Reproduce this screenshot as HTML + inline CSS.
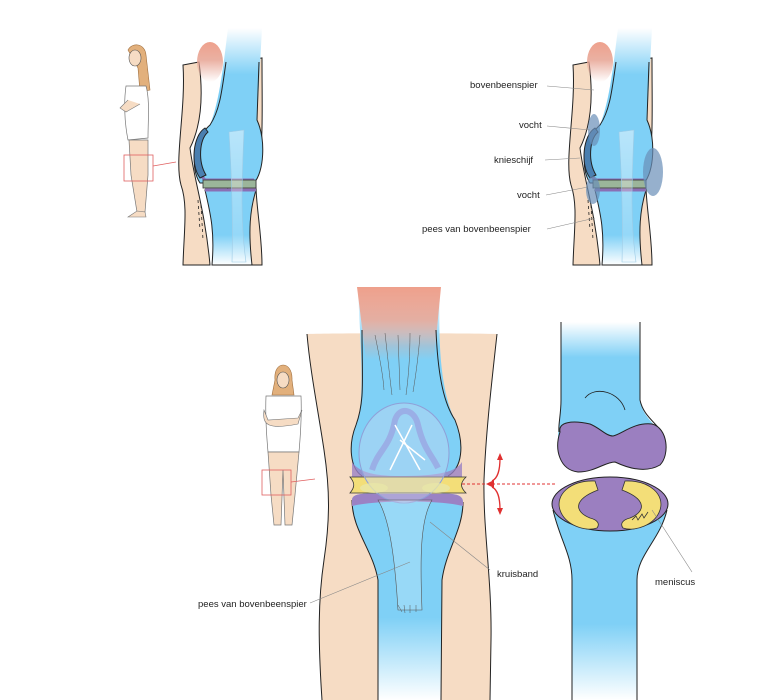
<!DOCTYPE html>
<html><head><meta charset="utf-8"><style>
html,body{margin:0;padding:0;background:#fff;}
svg{display:block;}
text{font-family:"Liberation Sans",sans-serif;font-size:9.5px;fill:#222;}
</style></head><body>
<svg width="770" height="700" viewBox="0 0 770 700" xmlns="http://www.w3.org/2000/svg">
<defs>
<linearGradient id="bv2" x1="0" y1="0" x2="0" y2="1">
<stop offset="0" stop-color="#fff"/><stop offset="0.3" stop-color="#7fd0f6"/><stop offset="1" stop-color="#7fd0f6"/>
</linearGradient>
<linearGradient id="bv3" x1="0" y1="0" x2="0" y2="1">
<stop offset="0" stop-color="#7fd0f6"/><stop offset="0.6" stop-color="#7fd0f6"/><stop offset="1" stop-color="#fff"/>
</linearGradient>
<linearGradient id="pk" x1="0" y1="0" x2="0" y2="1">
<stop offset="0" stop-color="#eea08c"/><stop offset="0.45" stop-color="#e8a898" stop-opacity="0.9"/><stop offset="1" stop-color="#e8a898" stop-opacity="0"/>
</linearGradient>
<linearGradient id="tg" x1="0" y1="0" x2="0" y2="1">
<stop offset="0" stop-color="#fff" stop-opacity="0.45"/><stop offset="1" stop-color="#fff" stop-opacity="0.1"/>
</linearGradient>
<g id="side">
  <path d="M232,62 L262,58 C262,120 264,150 256,165 C254,200 262,230 262,265 L225,265 Z" fill="#f6dcc4" stroke="#222" stroke-width="1"/>
  <path d="M183,65 L199,62 C204,100 200,128 190,148 C194,180 205,210 210,265 L183,265 C184,230 188,205 181,185 C174,160 186,110 183,65 Z" fill="#f6dcc4" stroke="#222" stroke-width="1"/>
  <path d="M228,28 L262,28 L257,120 C266,140 264,172 254,183 L200,183 C190,168 193,140 210,125 C220,100 224,60 228,28 Z" fill="url(#bv2)"/>
  <ellipse cx="210" cy="62" rx="13" ry="20" fill="url(#pk)"/>
  <path d="M226,62 C222,90 220,110 210,125 C193,140 190,168 200,183 L254,183 C264,172 266,140 257,120 L259,62" fill="none" stroke="#222" stroke-width="1"/>
  <path d="M205,130 C194,145 194,170 205,180 L254,180" fill="none" stroke="#8a6fb5" stroke-width="3"/>
  <rect x="203" y="180" width="53" height="8" fill="#9bb59a" stroke="#333" stroke-width="0.8"/>
  <path d="M205,190 L256,190 C250,210 248,230 252,265 L212,265 C215,230 210,212 205,190 Z" fill="url(#bv3)" stroke="#222" stroke-width="1"/>
  <path d="M205,190 L256,190" stroke="#8a6fb5" stroke-width="3"/>
  <path d="M205,128 C193,135 190,165 200,178 L206,175 C198,162 199,140 208,132 Z" fill="#4a7fb0" stroke="#222" stroke-width="1"/>
  <path d="M229,132 L244,130 C242,180 240,220 246,262 L232,262 C233,220 232,180 229,132 Z" fill="url(#tg)" stroke="#9ccbe6" stroke-width="0.6"/>
  <path d="M198,200 L200,230 M201,205 L203,240" stroke="#222" stroke-dasharray="3,3" stroke-width="0.8"/>
</g>
</defs>

<path d="M128,50 C132,42 145,43 146,55 L150,90 L140,92 L138,68 Z" fill="#e2b07c" stroke="#a07040" stroke-width="0.6"/>
<ellipse cx="135" cy="58" rx="6" ry="8" fill="#f6dcc4" stroke="#555" stroke-width="0.6"/>
<path d="M126,86 L146,86 C150,100 148,120 148,138 L128,140 C124,120 124,100 126,86 Z" fill="#fff" stroke="#777" stroke-width="0.7"/>
<path d="M128,100 L120,108 L126,112 L140,104" fill="#f6dcc4" stroke="#777" stroke-width="0.6"/>
<path d="M129,140 L148,140 L148,175 L145,212 L137,212 L131,175 Z" fill="#f6dcc4" stroke="#777" stroke-width="0.7"/>
<path d="M137,211 L145,212 L146,217 L128,217 Z" fill="#f6dcc4" stroke="#777" stroke-width="0.6"/>
<rect x="124" y="155" width="29" height="26" fill="none" stroke="#e06060" stroke-width="0.8"/>
<line x1="153" y1="166" x2="176" y2="162" stroke="#e06060" stroke-width="0.8"/>

<use href="#side"/>
<use href="#side" transform="translate(390,0)"/>
<ellipse cx="594" cy="130" rx="6" ry="16" fill="#6a8fb8" opacity="0.7"/>
<ellipse cx="593" cy="190" rx="7" ry="14" fill="#6a8fb8" opacity="0.7"/>
<ellipse cx="653" cy="172" rx="10" ry="24" fill="#6a8fb8" opacity="0.7"/>

<text x="470" y="88">bovenbeenspier</text>
<line x1="547" y1="86" x2="594" y2="90" stroke="#888" stroke-width="0.6"/>
<text x="519" y="128">vocht</text>
<line x1="547" y1="126" x2="590" y2="130" stroke="#888" stroke-width="0.6"/>
<text x="494" y="163">knieschijf</text>
<line x1="545" y1="160" x2="580" y2="158" stroke="#888" stroke-width="0.6"/>
<text x="517" y="198">vocht</text>
<line x1="546" y1="195" x2="588" y2="187" stroke="#888" stroke-width="0.6"/>
<text x="422" y="232">pees van bovenbeenspier</text>
<line x1="547" y1="229" x2="595" y2="218" stroke="#888" stroke-width="0.6"/>

<path d="M275,380 C273,360 293,360 292,380 L294,395 L272,395 Z" fill="#e2b07c" stroke="#a07040" stroke-width="0.6"/>
<ellipse cx="283" cy="380" rx="6" ry="8" fill="#f6dcc4" stroke="#555" stroke-width="0.6"/>
<path d="M266,396 L301,396 C302,420 300,440 299,452 L268,452 C267,440 265,420 266,396 Z" fill="#fff" stroke="#777" stroke-width="0.7"/>
<path d="M264,410 C262,425 268,430 298,424 L302,410 L298,418 L268,420 Z" fill="#f6dcc4" stroke="#777" stroke-width="0.6"/>
<path d="M268,452 L299,452 L295,495 L292,525 L285,525 L283,470 L281,525 L274,525 L271,495 Z" fill="#f6dcc4" stroke="#777" stroke-width="0.7"/>
<rect x="262" y="470" width="29" height="25" fill="none" stroke="#e06060" stroke-width="0.8"/>
<line x1="291" y1="482" x2="315" y2="479" stroke="#e06060" stroke-width="0.8"/>

<path d="M307,334 C340,333 460,333 497,334 C492,380 486,430 484,480 C483,530 492,580 491,640 L490,700 L322,700 C318,640 318,600 324,560 C330,520 330,490 324,450 C318,410 310,370 307,334 Z" fill="#f6dcc4"/>
<path d="M307,334 C310,370 318,410 324,450 C330,490 330,520 324,560 C318,600 318,640 322,700" fill="none" stroke="#222" stroke-width="1"/>
<path d="M497,334 C492,380 486,430 484,480 C483,530 492,580 491,640 L490,700" fill="none" stroke="#222" stroke-width="1"/>
<path d="M358,290 L440,290 C438,340 440,390 455,420 C465,445 462,468 448,476 L362,476 C350,468 348,445 356,425 C366,400 360,340 358,290 Z" fill="url(#bv2)"/>
<path d="M357,287 L441,287 L434,360 L366,360 Z" fill="url(#pk)"/>
<path d="M362,330 C362,380 365,400 356,425 C348,445 350,468 362,476 M436,330 C438,380 445,405 455,420 C465,445 462,468 448,476" fill="none" stroke="#222" stroke-width="1"/>
<path d="M352,462 C360,474 380,476 400,476 C430,476 455,474 462,462 L462,478 L352,478 Z" fill="#9b82c4" opacity="0.8"/>
<g stroke="#555" stroke-width="0.5" fill="none"><path d="M375,335 C380,360 383,375 384,390 M385,333 C388,360 390,380 392,395 M398,335 L400,390 M410,333 C410,360 408,380 406,395 M420,335 C418,360 415,380 413,392"/></g>
<path d="M350,477 L466,477 C460,483 460,487 466,493 L350,493 C355,487 355,483 350,477 Z" fill="#f3de78" stroke="#333" stroke-width="0.8"/>
<path d="M352,500 C352,494 362,493 380,494 L440,494 C455,493 463,495 463,502 C463,530 446,550 442,580 L441,700 L378,700 L378,580 C373,550 352,530 352,500 Z" fill="url(#bv3)"/>
<path d="M352,500 C352,530 373,550 378,580 L378,700 M463,502 C463,530 446,550 442,580 L441,700" fill="none" stroke="#222" stroke-width="1"/>
<path d="M352,500 C352,494 362,493 380,494 L440,494 C455,493 463,495 463,502 L463,506 C440,500 375,500 352,506 Z" fill="#9b82c4"/>
<ellipse cx="404" cy="453" rx="45" ry="50" fill="#c9d6f2" fill-opacity="0.4" stroke="#8fa0d8" stroke-width="1"/>
<path d="M372,470 C378,450 390,448 395,420 C400,405 415,410 418,425 C424,450 432,455 438,468" fill="none" stroke="#9aa0e0" stroke-width="6" opacity="0.7"/>
<path d="M395,425 L420,470 M412,425 L390,470 M400,440 L425,460" stroke="#fff" stroke-width="1.5"/>
<ellipse cx="374" cy="488" rx="14" ry="5" fill="#e8e6a8" opacity="0.8"/>
<ellipse cx="436" cy="488" rx="14" ry="5" fill="#e8e6a8" opacity="0.8"/>
<path d="M378,500 C390,520 395,560 398,610 L422,610 C420,560 420,520 432,500 Z" fill="#fff" fill-opacity="0.2" stroke="#555" stroke-width="0.6"/>
<path d="M398,605 L402,612 M404,605 L405,613 M410,605 L410,613 M416,605 L416,612" stroke="#555" stroke-width="0.5"/>
<line x1="462" y1="484" x2="556" y2="484" stroke="#e03030" stroke-width="1" stroke-dasharray="3,2"/>
<path d="M486,484 L494,480 L494,488 Z" fill="#e03030"/>
<path d="M492,481 C498,478 500,470 500,458" fill="none" stroke="#e03030" stroke-width="1.3"/>
<path d="M497,460 L500,453 L503,460 Z" fill="#e03030"/>
<path d="M492,487 C498,490 500,498 500,510" fill="none" stroke="#e03030" stroke-width="1.3"/>
<path d="M497,508 L500,515 L503,508 Z" fill="#e03030"/>

<path d="M561,322 L640,322 L640,400 C643,420 660,425 662,440 L558,440 C558,425 561,415 561,400 Z" fill="url(#bv2)"/>
<path d="M561,322 L561,400 C561,415 558,425 559,432 M640,322 L640,400 C643,415 655,422 660,430" fill="none" stroke="#222" stroke-width="1"/>
<path d="M585,398 C595,385 620,392 625,410" fill="none" stroke="#222" stroke-width="0.8"/>
<path d="M560,432 C558,422 572,420 590,424 C600,428 606,436 613,436 C622,434 634,422 652,424 C668,428 670,455 660,465 C648,472 632,470 615,462 C605,462 595,472 578,472 C560,470 554,450 560,432 Z" fill="#9b7fc0" stroke="#222" stroke-width="1"/>
<path d="M553,510 C560,540 572,555 572,580 L572,700 L637,700 L637,580 C637,555 660,540 667,510 Z" fill="url(#bv3)"/>
<path d="M553,510 C560,540 572,555 572,580 L572,700 M667,510 C660,540 637,555 637,580 L637,700" fill="none" stroke="#222" stroke-width="1"/>
<ellipse cx="610" cy="504" rx="58" ry="27" fill="#9b7fc0" stroke="#222" stroke-width="1"/>
<path d="M595,481 C570,480 555,495 560,510 C565,525 585,532 597,528 C600,524 598,520 590,518 C575,512 572,500 598,490 Z" fill="#f3de78" stroke="#333" stroke-width="0.8"/>
<path d="M625,481 C650,480 665,495 660,510 C655,525 635,532 623,528 C620,524 622,520 630,518 C645,512 648,500 622,490 Z" fill="#f3de78" stroke="#333" stroke-width="0.8"/>
<path d="M632,520 L636,516 L638,520 L642,514 L644,518 L648,512" fill="none" stroke="#333" stroke-width="0.8"/>

<text x="497" y="577">kruisband</text>
<line x1="430" y1="522" x2="490" y2="570" stroke="#888" stroke-width="0.6"/>
<text x="655" y="585">meniscus</text>
<line x1="652" y1="510" x2="692" y2="572" stroke="#888" stroke-width="0.6"/>
<text x="198" y="607">pees van bovenbeenspier</text>
<line x1="310" y1="603" x2="410" y2="562" stroke="#888" stroke-width="0.6"/>
</svg>
</body></html>
